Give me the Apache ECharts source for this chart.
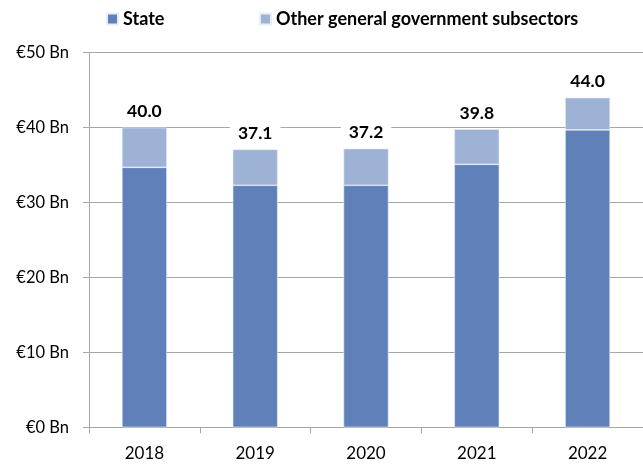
<!DOCTYPE html>
<html><head><meta charset="utf-8">
<script src="https://cdn.jsdelivr.net/npm/echarts@6/dist/echarts.min.js"></script>
<style>html,body{margin:0;padding:0;background:#fff}#c{width:643px;height:467px}</style>
</head><body><div id="c"></div>
<script>
var years = ['2018', '2019', '2020', '2021', '2022'];
var stateValues = [34.7, 32.3, 32.3, 35.1, 39.7];
var otherValues = [5.3, 4.8, 4.9, 4.7, 4.3];
var totalLabels = ['40.0', '37.1', '37.2', '39.8', '44.0'];
var yTicks = [0, 10, 20, 30, 40, 50];

var FONT = 'Lato, "Open Sans", sans-serif';
var chart = echarts.init(document.getElementById('c'), null, {renderer: 'canvas'});
chart.setOption({
  animation: false,
  textStyle: {fontFamily: FONT},
  legend: [
    {data: ['State'], left: 101, top: 5, itemWidth: 11, itemHeight: 11, itemGap: 0,
     textStyle: {fontFamily: FONT, fontWeight: 'bold', fontSize: 18, color: '#000'}, icon: 'rect'},
    {data: ['Other general government subsectors'], left: 254, top: 5, itemWidth: 11, itemHeight: 11,
     textStyle: {fontFamily: FONT, fontWeight: 'bold', fontSize: 18, color: '#000'}, icon: 'rect'}
  ],
  grid: {left: 89, right: -8, top: 52.7, bottom: 39.7, containLabel: false},
  xAxis: {
    type: 'category', data: years,
    axisLine: {lineStyle: {color: '#A6A6A6', width: 1}},
    axisTick: {show: true, length: 6, lineStyle: {color: '#A6A6A6'}},
    axisLabel: {fontFamily: FONT, fontSize: 17, color: '#000', margin: 18}
  },
  yAxis: {
    type: 'value', min: yTicks[0], max: yTicks[yTicks.length - 1], interval: 10,
    axisLine: {show: true, lineStyle: {color: '#A6A6A6', width: 1}},
    axisTick: {show: true, length: 6, lineStyle: {color: '#A6A6A6'}},
    splitLine: {lineStyle: {color: '#A6A6A6', width: 1}},
    axisLabel: {fontFamily: FONT, fontSize: 16.5, color: '#000', margin: 20,
      formatter: function (v) { return '\u20ac' + v + ' Bn'; }}
  },
  series: [
    {name: 'State', type: 'bar', stack: 't', data: stateValues, barWidth: 45,
     itemStyle: {color: '#6080BA', borderColor: '#E8EEF8', borderWidth: 0.6}},
    {name: 'Other general government subsectors', type: 'bar', stack: 't', data: otherValues, barWidth: 45,
     itemStyle: {color: '#9EB2D6', borderColor: '#E8EEF8', borderWidth: 0.6},
     label: {show: true, position: 'top', distance: 4,
       formatter: function (p) { return totalLabels[p.dataIndex]; },
       fontFamily: FONT, fontWeight: 'bold', fontSize: 17.5, color: '#000',
       backgroundColor: '#fff', padding: [3, 8, 3, 8]}}
  ]
});
</script></body></html>
